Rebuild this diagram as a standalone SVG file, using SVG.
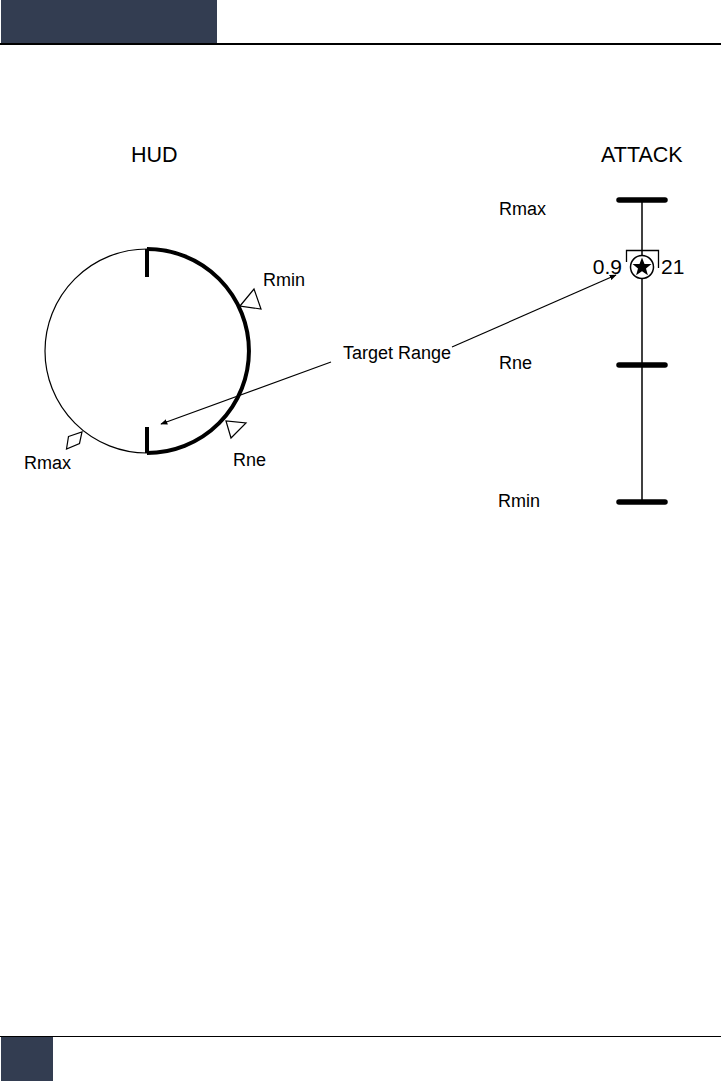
<svg xmlns="http://www.w3.org/2000/svg" width="721" height="1081" viewBox="0 0 721 1081">
<defs>
<style>
text{font-family:"Liberation Sans",Arial,sans-serif;fill:#000}
.lbl{font-size:18px}
.title{font-size:21.5px}
.num{font-size:21px}
.thin{fill:none;stroke:#000;stroke-width:1.2}
.thick{fill:none;stroke:#000;stroke-width:4}
.bar{stroke:#000;stroke-width:5.5;stroke-linecap:round}
.mark{fill:#fff;stroke:#000;stroke-width:1.2;stroke-linejoin:miter}
.conn{stroke:#000;stroke-width:1.2;fill:none}
</style>
<marker id="arr" viewBox="0 0 10 10" refX="9" refY="5" markerWidth="7" markerHeight="7" markerUnits="userSpaceOnUse" orient="auto">
<path d="M0,1 L10,5 L0,9 Z" fill="#000"/>
</marker>
</defs>
<rect width="721" height="1081" fill="#fff"/>
<g id="header">
<rect x="1" y="0" width="216" height="43" fill="#333d51"/>
<line x1="0" y1="44" x2="721" y2="44" stroke="#000" stroke-width="2"/>
</g>
<g id="footer">
<line x1="0" y1="1036.5" x2="721" y2="1036.5" stroke="#000" stroke-width="1"/>
<rect x="1" y="1037" width="52" height="44" fill="#333d51"/>
</g>
<g id="hud">
<text class="title" x="131" y="162">HUD</text>
<circle class="thin" cx="147" cy="351" r="102"/>
<path class="thick" d="M147,249 A102,102 0 0 1 147,453"/>
<line class="thick" x1="147" y1="249" x2="147" y2="277"/>
<line class="thick" x1="147" y1="427" x2="147" y2="453"/>
</g>
<g id="hud-rmin">
<polygon class="mark" points="240,306 254,289 261,309"/>
<text class="lbl" x="263" y="286">Rmin</text>
</g>
<g id="hud-rne">
<polygon class="mark" points="226,421 231,438 246,423"/>
<text class="lbl" x="233" y="466">Rne</text>
</g>
<g id="hud-rmax">
<polygon class="mark" points="68.5,436.5 82,432 79.5,443.5 66.5,449"/>
<text class="lbl" x="24" y="469">Rmax</text>
</g>
<g id="attack">
<text class="title" x="601" y="162">ATTACK</text>
<line x1="642" y1="200" x2="642" y2="502" stroke="#000" stroke-width="1.5"/>
<line class="bar" x1="619" y1="200" x2="665" y2="200"/>
<line class="bar" x1="619" y1="365" x2="665" y2="365"/>
<line class="bar" x1="619" y1="502" x2="665" y2="502"/>
<text class="lbl" x="499" y="215">Rmax</text>
<text class="lbl" x="499" y="369">Rne</text>
<text class="lbl" x="498" y="507">Rmin</text>
</g>
<g id="target">
<circle cx="642" cy="267" r="11.5" fill="#fff" stroke="#000" stroke-width="1.5"/>
<polygon points="642,257.5 644.5,263.9 651.5,264.1 646,268.5 647.9,275.2 642,271.2 636.1,275.2 638,268.5 632.5,264.1 639.5,263.9" fill="#000"/>
<polyline points="626.5,262 626.5,250.5 658.5,250.5 658.5,268" fill="none" stroke="#000" stroke-width="1.3"/>
<text class="num" x="622" y="274" text-anchor="end">0.9</text>
<text class="num" x="661" y="274">21</text>
</g>
<g id="connectors">
<line class="conn" x1="452" y1="347" x2="616" y2="275" marker-end="url(#arr)"/>
<line class="conn" x1="331" y1="362" x2="161" y2="424" marker-end="url(#arr)"/>
</g>
<g id="target-label">
<text class="lbl" x="343" y="359">Target Range</text>
</g>
</svg>
